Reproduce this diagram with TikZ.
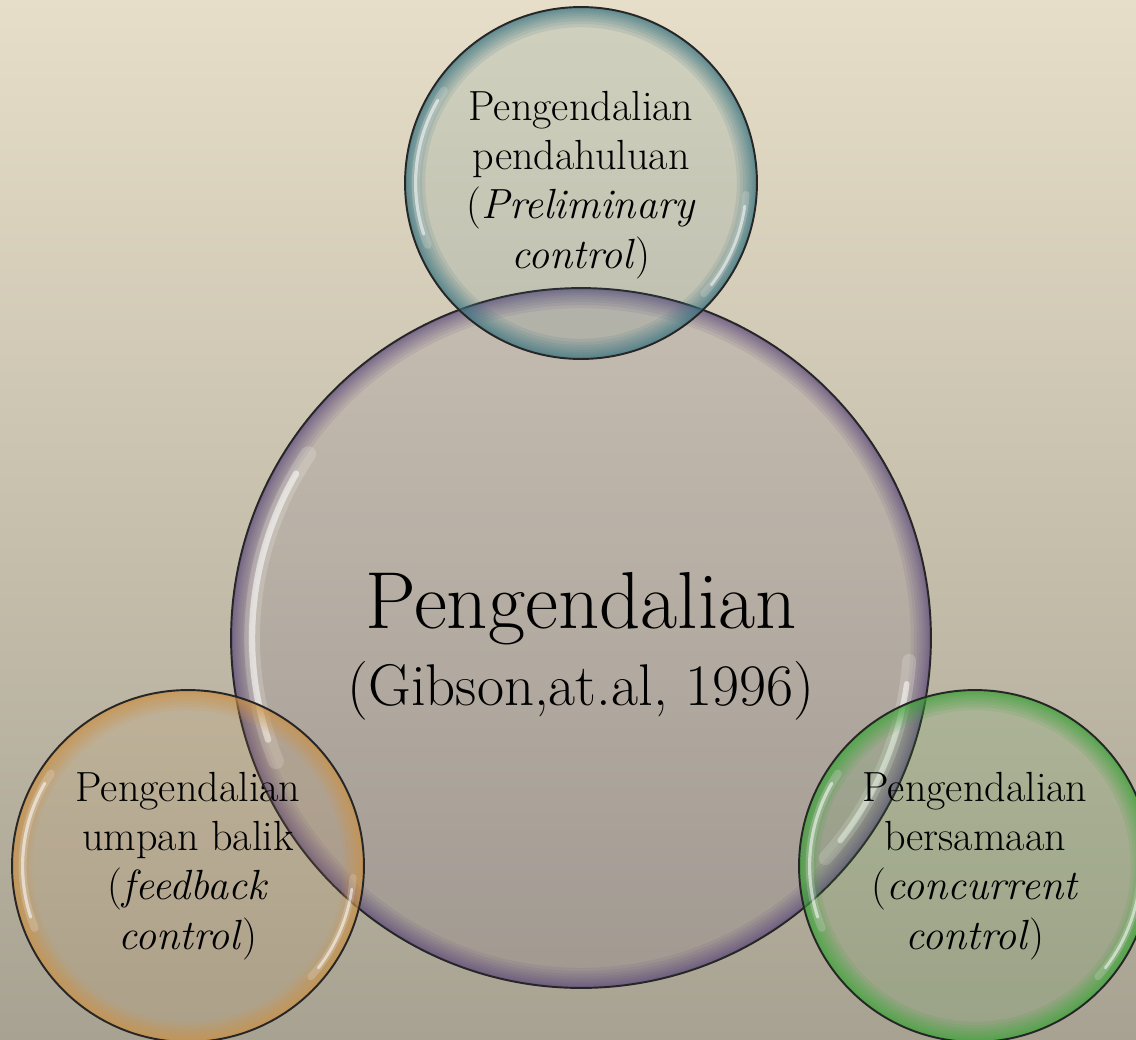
\documentclass[tikz,border=0pt]{standalone}
\usetikzlibrary{calc}
\definecolor{bgtop}{RGB}{230,222,200}
\definecolor{bgbot}{RGB}{168,162,146}
\definecolor{cteal}{RGB}{62,120,132}
\definecolor{cpurple}{RGB}{92,72,124}
\definecolor{corange}{RGB}{205,148,74}
\definecolor{cgreen}{RGB}{62,165,58}
\tikzset{
  outline/.style={draw=black!85, line width=1.1pt},
  hilite/.style={draw=white, line cap=round},
  smalltext/.style={align=center, font=\fontsize{24}{28}\selectfont, text=black, inner sep=0pt},
}
\newcommand{\bubble}[5]{% center, radius(cm), color, name, step opacity
  \coordinate (#4) at #1;
  \fill[#3, opacity=0.12] (#4) circle (#2cm);
  \begin{scope}
    \clip (#4) circle (#2cm);
    \foreach \k in {1,...,12} {\draw[#3, opacity=#5, line width=\k*\k*0.0056cm] (#4) circle (#2cm);}
  \end{scope}
  \draw[hilite, line width=0.045*#2cm, opacity=0.18] ($(#4)+(146:0.94*#2cm)$) arc[start angle=146, end angle=202, radius=0.94*#2cm];
  \draw[hilite, line width=0.018*#2cm, opacity=0.55] ($(#4)+(150:0.94*#2cm)$) arc[start angle=150, end angle=198, radius=0.94*#2cm];
  \draw[hilite, line width=0.04*#2cm, opacity=0.18] ($(#4)+(-42:0.94*#2cm)$) arc[start angle=-42, end angle=-4, radius=0.94*#2cm];
  \draw[hilite, line width=0.016*#2cm, opacity=0.55] ($(#4)+(-38:0.94*#2cm)$) arc[start angle=-38, end angle=-8, radius=0.94*#2cm];
  \draw[outline] (#4) circle (#2cm);
}
\begin{document}
\begin{tikzpicture}[x=0.02cm, y=-0.02cm]
\useasboundingbox (0,0) rectangle (1136,1039);
\clip (0,0) rectangle (1136,1039);
\shade[top color=bgtop, bottom color=bgbot] (0,0) rectangle (1136,1039);
\bubble{(581,638)}{7.0}{cpurple}{cbig}{0.11}
\bubble{(581,183)}{3.52}{cteal}{ctop}{0.13}
\bubble{(188,866)}{3.52}{corange}{cleft}{0.13}
\bubble{(975,866)}{3.52}{cgreen}{cright}{0.13}
\node[anchor=base, inner sep=0pt, font=\fontsize{46}{50}\selectfont] (tbig) at (581,628) {Pengendalian};
\node[anchor=base, inner sep=0pt, font=\fontsize{33.5}{38}\selectfont] (tcite) at (581,705) {(Gibson,at.al, 1996)};
\node[smalltext] (ttop) at (581,185) {Pengendalian\\pendahuluan\\(\textit{Preliminary}\\\textit{control})};
\node[smalltext] (tleft) at (188,866) {Pengendalian\\umpan balik\\(\textit{feedback}\\\textit{control})};
\node[smalltext] (tright) at (975,866) {Pengendalian\\bersamaan\\(\textit{concurrent}\\\textit{control})};
\end{tikzpicture}
\end{document}
